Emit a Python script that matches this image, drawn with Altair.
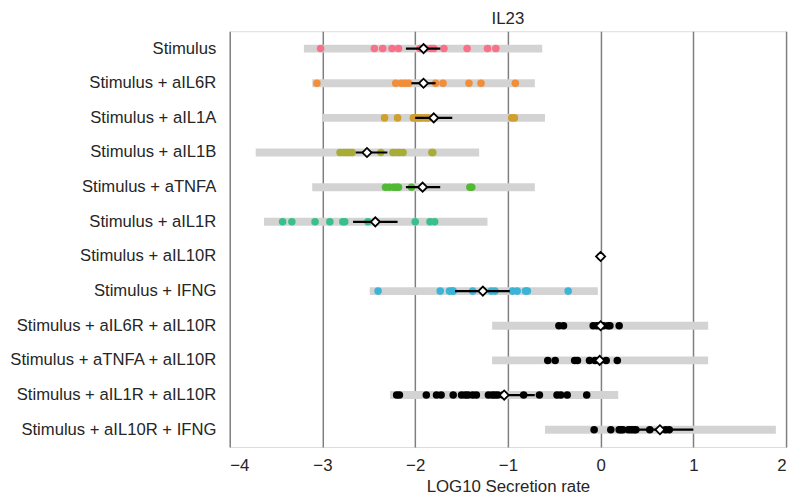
import altair as alt
import pandas as pd

title_text = "IL23"
x_title = "LOG10 Secretion rate"

categories = [
    "Stimulus",
    "Stimulus + aIL6R",
    "Stimulus + aIL1A",
    "Stimulus + aIL1B",
    "Stimulus + aTNFA",
    "Stimulus + aIL1R",
    "Stimulus + aIL10R",
    "Stimulus + IFNG",
    "Stimulus + aIL6R + aIL10R",
    "Stimulus + aTNFA + aIL10R",
    "Stimulus + aIL1R + aIL10R",
    "Stimulus + aIL10R + IFNG",
]

colors = [
    "#f77189", "#f28e3a", "#cf9f30", "#a8ad35", "#52b934", "#39bf8c",
    "#37b3a6", "#3bb5d6", "#000000", "#000000", "#000000", "#000000",
]

# observed points per condition (LOG10 secretion rate)
vals_stimulus = [-3.02, -2.44, -2.35, -2.25, -2.18, -1.95, -1.89, -1.83, -1.80, -1.69, -1.44, -1.22, -1.13]
vals_ail6r = [-3.06, -2.21, -2.15, -2.11, -2.07, -1.78, -1.70, -1.42, -1.29, -0.92]
vals_ail1a = [-2.33, -2.19, -2.02, -1.99, -1.96, -1.93, -1.89, -1.86, -0.96, -0.93]
vals_ail1b = [-2.81, -2.77, -2.74, -2.71, -2.68, -2.37, -2.24, -2.20, -2.17, -2.13, -1.82, -1.81]
vals_atnfa = [-2.32, -2.28, -2.23, -2.20, -2.18, -2.04, -1.92, -1.41, -1.39]
vals_ail1r = [-3.43, -3.33, -3.08, -2.92, -2.78, -2.76, -2.51, -2.00, -1.84, -1.79]
vals_ail10r = [0.0, 0.0, 0.0, 0.0, 0.0, 0.0]
vals_ifng = [-2.40, -1.73, -1.63, -1.60, -1.59, -1.38, -1.18, -1.14, -0.95, -0.90, -0.81, -0.79, -0.35]
vals_ail6r_ail10r = [-0.45, -0.40, -0.08, -0.04, 0.00, 0.03, 0.08, 0.10, 0.20]
vals_atnfa_ail10r = [-0.57, -0.49, -0.28, -0.25, -0.12, -0.06, -0.01, 0.06, 0.18]
vals_ail1r_ail10r = [-2.20, -2.17, -1.88, -1.77, -1.72, -1.59, -1.50, -1.46, -1.43, -1.38, -1.34,
                     -1.21, -1.17, -1.14, -1.11, -1.05, -0.83, -0.66, -0.47, -0.43, -0.36, -0.15]
vals_ail10r_ifng = [-0.07, 0.11, 0.20, 0.22, 0.24, 0.30, 0.33, 0.36, 0.38, 0.53, 0.70, 0.74]

all_vals = [
    vals_stimulus, vals_ail6r, vals_ail1a, vals_ail1b, vals_atnfa, vals_ail1r,
    vals_ail10r, vals_ifng, vals_ail6r_ail10r, vals_atnfa_ail10r,
    vals_ail1r_ail10r, vals_ail10r_ifng,
]

# grey range bars
range_lo = [-3.20, -3.11, -3.00, -3.72, -3.11, -3.63, 0.0, -2.49, -1.17, -1.17, -2.27, -0.60]
range_hi = [-0.63, -0.71, -0.60, -1.31, -0.71, -1.22, 0.0, -0.03, 1.16, 1.16, 0.19, 1.89]

# mean and confidence interval
means = [-1.91, -1.91, -1.80, -2.52, -1.92, -2.43, 0.0, -1.27, 0.00, -0.01, -1.04, 0.64]
ci_lo = [-2.10, -2.04, -2.00, -2.64, -2.10, -2.67, 0.0, -1.57, -0.05, -0.06, -1.22, 0.35]
ci_hi = [-1.73, -1.78, -1.60, -2.30, -1.73, -2.19, 0.0, -0.98, 0.05, 0.04, -0.71, 1.00]

x_ticks = [-4, -3, -2, -1, 0, 1, 2]

pts = pd.DataFrame(
    [{"cond": c, "value": v} for c, vs in zip(categories, all_vals) for v in vs]
)
summary = pd.DataFrame({
    "cond": categories, "lo": range_lo, "hi": range_hi,
    "mean": means, "ci_lo": ci_lo, "ci_hi": ci_hi,
})

FONT = "Liberation Sans"
TXT = "#262626"

y_enc = alt.Y(
    "cond:N", sort=categories, scale=alt.Scale(domain=categories),
    axis=alt.Axis(title=None, ticks=False, domain=False, grid=False,
                  labelFontSize=16.8, labelPadding=14, labelColor=TXT,
                  labelFont=FONT, labelLimit=400),
)

x_axis = alt.Axis(values=x_ticks, format="d", grid=True, gridColor="#7f7f7f", gridWidth=1.5,
                  ticks=False, domain=False, labelFontSize=17, labelPadding=11,
                  labelColor=TXT, labelFont=FONT, titleFontSize=17,
                  titleFontWeight="normal", titleColor=TXT, titleFont=FONT,
                  titlePadding=5)
x_scale = alt.Scale(domain=[-4, 2], nice=False, zero=False)

ranges = alt.Chart(summary).mark_rule(color="#d3d3d3", strokeWidth=8).encode(
    x=alt.X("lo:Q", scale=x_scale, axis=x_axis, title=x_title),
    x2="hi:Q",
    y=y_enc,
)

points = alt.Chart(pts).mark_circle(size=58, opacity=1).encode(
    x=alt.X("value:Q", scale=x_scale, title=x_title),
    y=y_enc,
    color=alt.Color("cond:N", scale=alt.Scale(domain=categories, range=colors), legend=None),
)

err = alt.Chart(summary).mark_rule(color="black", strokeWidth=2.2).encode(
    x=alt.X("ci_lo:Q", scale=x_scale, title=x_title),
    x2="ci_hi:Q",
    y=y_enc,
)

diam = alt.Chart(summary).mark_point(
    shape="diamond", filled=True, fill="white", stroke="black",
    strokeWidth=1.8, size=85, opacity=1,
).encode(
    x=alt.X("mean:Q", scale=x_scale, title=x_title),
    y=y_enc,
)

chart = alt.layer(ranges, points, err, diam).properties(
    width=562, height=420,
    title=alt.TitleParams(title_text, fontSize=17, fontWeight="normal",
                          font=FONT, color=TXT, offset=3),
    autosize=alt.AutoSizeParams(type="none"),
    padding={"left": 224, "top": 21, "right": 6, "bottom": 50},
).configure_view(stroke=None).configure(font=FONT)

chart.save("out.html", embed_options={"renderer": "svg", "actions": False})
